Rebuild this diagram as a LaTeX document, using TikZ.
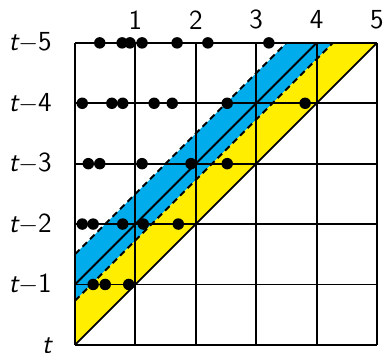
\documentclass[tikz,border=0pt]{standalone}
\usepackage{fontspec}
\begin{document}
\begin{tikzpicture}[x=1cm,y=1cm,
  gridline/.style={line width=0.9pt},
  diagline/.style={line width=0.9pt},
  dashline/.style={line width=0.9pt,dash pattern=on 3pt off 2pt},
  dotmark/.style={circle,fill=black,inner sep=0pt,minimum size=0.19cm},
  lbl/.style={font=\fontsize{13}{15}\selectfont\sffamily,inner sep=0pt}]
\definecolor{bandblue}{RGB}{0,172,236}
\definecolor{bandyellow}{RGB}{255,238,0}
\useasboundingbox (-1.242,-0.132) rectangle (5.116,5.71);
% bands
\fill[bandblue] (0,1.5) -- (3.5,5) -- (4.27,5) -- (0,0.73) -- cycle;
\fill[bandyellow] (0,0.73) -- (4.27,5) -- (5,5) -- (0,0) -- cycle;
% grid
\draw[gridline] (0,0) grid (5,5);
% diagonals
\coordinate (d0a) at (0,0); \coordinate (d0b) at (5,5);
\coordinate (d1a) at (0,1); \coordinate (d1b) at (4,5);
\coordinate (uda) at (0,1.5); \coordinate (udb) at (3.5,5);
\coordinate (lda) at (0,0.73); \coordinate (ldb) at (4.27,5);
\draw[diagline] (d0a) -- (d0b);
\draw[diagline] (d1a) -- (d1b);
\draw[dashline] (uda) -- (udb);
\draw[dashline] (lda) -- (ldb);
% dots
\foreach \x [count=\i] in {0.41,0.78,0.91,1.11,1.69,2.20,3.21}
  \node[dotmark] (p5\i) at (\x,5) {};
\foreach \x [count=\i] in {0.12,0.61,0.79,1.31,1.61,2.52,3.81}
  \node[dotmark] (p4\i) at (\x,4) {};
\foreach \x [count=\i] in {0.22,0.41,1.11,1.92,2.52}
  \node[dotmark] (p3\i) at (\x,3) {};
\foreach \x [count=\i] in {0.12,0.30,0.79,1.13,1.71}
  \node[dotmark] (p2\i) at (\x,2) {};
\foreach \x [count=\i] in {0.30,0.50,0.89}
  \node[dotmark] (p1\i) at (\x,1) {};
% column labels
\foreach \c in {1,...,5}
  \node[lbl] (c\c) at (\c,5.38) {\c};
% row labels
\node[lbl,anchor=east] (r5) at (-0.38,5) {{\itshape t}$-$5};
\node[lbl,anchor=east] (r4) at (-0.38,4) {{\itshape t}$-$4};
\node[lbl,anchor=east] (r3) at (-0.38,3) {{\itshape t}$-$3};
\node[lbl,anchor=east] (r2) at (-0.38,2) {{\itshape t}$-$2};
\node[lbl,anchor=east] (r1) at (-0.38,1) {{\itshape t}$-$1};
\node[lbl,anchor=east] (r0) at (-0.38,-0.02) {{\itshape t}};
\end{tikzpicture}
\end{document}
